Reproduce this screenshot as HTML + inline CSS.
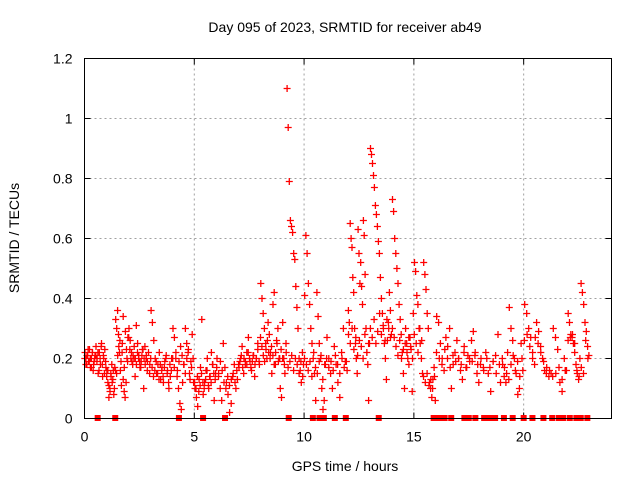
<!DOCTYPE html>
<html><head><meta charset="utf-8"><style>
body{margin:0;background:#fff;}
svg{display:block;font-family:"Liberation Sans",sans-serif;}
</style></head><body>
<svg id="chart" width="640" height="480">
<text x="345" y="32" font-size="14" text-anchor="middle">Day 095 of 2023, SRMTID for receiver ab49</text>
<text x="345" y="471" font-size="14" text-anchor="middle">GPS time / hours</text>
<text transform="translate(19,238) rotate(-90)" font-size="14" text-anchor="middle">SRMTID / TECUs</text>
<g id="grid"></g>
<g id="ticks"></g>
<g id="marks"></g>
<rect x="84.5" y="58.5" width="527" height="360" fill="none" stroke="#000"/>
</svg>
<script>
const xTicks=[0,5,10,15,20];
const yTicks=[0,0.2,0.4,0.6,0.8,1,1.2];
const yTickLabels=["0","0.2","0.4","0.6","0.8","1","1.2"];
const binStarts=[0,0.5,1.0,1.4,2,3,4,5,6,7,8,9,10,11,12,13,14,15,16,17,18,19,20,21,22];
const binEnds=[0.5,1.0,1.4,2,3,4,5,6,7,8,9,10,11,12,13,14,15,16,17,18,19,20,21,22,23];
const binValues=[
[0.22,0.2,0.18,0.21,0.19,0.23,0.17,0.2,0.22,0.16,0.19,0.21],
[0.24,0.2,0.15,0.22,0.18,0.25,0.14,0.2,0.23,0.17],
[0.16,0.12,0.07,0.1,0.15,0.18,0.13,0.08,0.17],
[0.33,0.3,0.36,0.28,0.22,0.16,0.11,0.25,0.34,0.09,0.07,0.12,0.2,0.27],
[0.3,0.26,0.22,0.18,0.2,0.14,0.31,0.25,0.21,0.17,0.19,0.23,0.1,0.24,0.2,0.16,0.22,0.18],
[0.36,0.32,0.26,0.2,0.15,0.18,0.22,0.13,0.17,0.12,0.19,0.21,0.16,0.1,0.14,0.2],
[0.3,0.27,0.2,0.14,0.1,0.05,0.03,0.12,0.18,0.3,0.25,0.22,0.15,0.19,0.28,0.12],
[0.1,0.07,0.04,0.13,0.17,0.33,0.08,0.12,0.16,0.2,0.1,0.14,0.22,0.18,0.06,0.15],
[0.2,0.15,0.1,0.06,0.25,0.17,0.12,0.08,0.02,0.05,0.14,0.18,0.1,0.13],
[0.17,0.2,0.24,0.15,0.18,0.22,0.27,0.19,0.16,0.21,0.14,0.2,0.25,0.18],
[0.45,0.4,0.35,0.3,0.25,0.2,0.32,0.28,0.22,0.15,0.38,0.42,0.18,0.26,0.3,0.2,0.1,0.07],
[0.32,0.2,0.15,0.25,1.1,0.97,0.79,0.66,0.64,0.62,0.55,0.53,0.44,0.37,0.3,0.2,0.16,0.12,0.22,0.18],
[0.41,0.61,0.55,0.45,0.38,0.3,0.25,0.2,0.15,0.06,0.42,0.34,0.25,0.2,0.1,0.03,0.06,0.18],
[0.27,0.2,0.15,0.1,0.24,0.18,0.12,0.07,0.22,0.3,0.19,0.16],
[0.36,0.32,0.65,0.6,0.57,0.47,0.42,0.3,0.25,0.2,0.15,0.63,0.55,0.45,0.52,0.44,0.38,0.66,0.61,0.48,0.3,0.22,0.18,0.06,0.25],
[0.9,0.88,0.85,0.81,0.77,0.71,0.68,0.64,0.59,0.55,0.47,0.4,0.35,0.3,0.25,0.2,0.13,0.26,0.32,0.42,0.36,0.28],
[0.73,0.69,0.6,0.55,0.5,0.45,0.38,0.33,0.28,0.22,0.15,0.1,0.3,0.25,0.2,0.18,0.27,0.23,0.09,0.35],
[0.52,0.49,0.41,0.38,0.3,0.25,0.2,0.15,0.52,0.48,0.43,0.35,0.3,0.12,0.1,0.07,0.13,0.17,0.06],
[0.34,0.32,0.25,0.2,0.16,0.27,0.24,0.3,0.1,0.18,0.22,0.26],
[0.2,0.16,0.13,0.24,0.17,0.21,0.19,0.26,0.29,0.22,0.15,0.12],
[0.2,0.17,0.22,0.15,0.09,0.19,0.21,0.28,0.12],
[0.18,0.14,0.12,0.22,0.37,0.3,0.26,0.2,0.15,0.08,0.1,0.25,0.16],
[0.38,0.35,0.3,0.27,0.22,0.18,0.32,0.29,0.24,0.2,0.16],
[0.17,0.14,0.15,0.3,0.27,0.23,0.12,0.09,0.2,0.16],
[0.35,0.32,0.28,0.27,0.25,0.22,0.18,0.15,0.13,0.2,0.45,0.42,0.38,0.32,0.29,0.24,0.21]
];
const binValuesB=[
[0.2,0.18,0.21,0.23,0.19,0.2,0.17,0.22,0.18,0.2],
[0.21,0.19,0.22,0.16,0.2,0.24,0.18,0.21,0.15,0.19],
[0.14,0.16,0.11,0.09,0.14,0.12,0.16,0.1],
[0.16,0.15,0.21,0.24,0.26,0.19,0.22,0.13,0.17,0.29,0.23,0.19],
[0.27,0.23,0.2,0.19,0.21,0.24,0.2,0.18,0.22,0.2,0.19,0.17,0.21,0.23,0.2,0.18,0.21,0.19,0.22,0.15],
[0.2,0.17,0.14,0.16,0.19,0.15,0.13,0.18,0.16,0.14,0.17,0.2,0.15,0.12,0.18,0.16],
[0.2,0.17,0.22,0.16,0.19,0.24,0.21,0.18,0.15,0.2,0.23,0.13,0.17,0.2],
[0.12,0.1,0.14,0.09,0.11,0.15,0.12,0.1,0.13,0.16,0.11,0.14,0.12,0.18,0.15,0.13],
[0.17,0.14,0.19,0.16,0.12,0.1,0.14,0.11,0.13,0.15,0.12,0.16],
[0.18,0.19,0.21,0.17,0.2,0.19,0.18,0.22,0.2,0.17,0.19,0.21,0.18,0.2,0.23,0.19],
[0.27,0.24,0.21,0.19,0.23,0.26,0.22,0.2,0.24,0.21,0.18,0.22,0.25,0.19,0.2,0.23],
[0.2,0.18,0.22,0.17,0.19,0.21,0.16,0.2,0.18,0.15,0.19,0.14],
[0.2,0.18,0.16,0.19,0.14,0.22,0.17,0.15,0.19,0.21,0.13,0.18],
[0.2,0.17,0.19,0.16,0.21,0.18,0.15,0.2,0.17,0.19],
[0.28,0.25,0.3,0.23,0.27,0.21,0.26,0.24,0.2,0.28,0.22,0.25],
[0.3,0.27,0.33,0.25,0.29,0.35,0.28,0.31,0.26,0.33,0.3,0.27],
[0.3,0.27,0.24,0.21,0.26,0.2,0.23,0.25,0.22,0.27,0.24,0.2],
[0.28,0.25,0.22,0.3,0.26,0.14,0.12,0.15,0.11,0.13,0.1,0.14],
[0.22,0.2,0.18,0.23,0.2,0.17,0.21,0.19],
[0.2,0.18,0.22,0.17,0.2,0.19,0.21,0.18],
[0.18,0.16,0.2,0.17,0.19,0.15,0.18],
[0.2,0.17,0.15,0.13,0.18,0.21,0.16,0.19,0.14,0.2],
[0.26,0.28,0.24,0.2,0.27,0.25,0.22,0.19],
[0.15,0.16,0.14,0.15,0.17,0.13,0.16],
[0.26,0.27,0.28,0.25,0.16,0.14,0.17,0.15,0.26,0.2]
];
const zeroTimes=[0.6,1.4,4.3,5.4,6.4,9.3,10.4,10.7,10.9,11.4,11.9,13.4,15.9,16.0,16.1,16.2,16.3,16.4,16.7,17.3,17.5,17.8,18.2,18.3,18.4,18.5,18.6,18.7,19.1,19.5,20.0,20.4,20.9,21.3,21.6,21.8,22.1,22.4,22.6,22.9];
const X0=84.5,X1=611.5,Y0=418.5,Y1=58.5;
function xs(t){return X0+(t/24)*(X1-X0);}
function ys(v){return Y0-(v/1.2)*(Y0-Y1);}
const NS="http://www.w3.org/2000/svg";
const grid=document.getElementById('grid'),ticks=document.getElementById('ticks'),marks=document.getElementById('marks');
function mk(tag,attrs,parent){const e=document.createElementNS(NS,tag);for(const k in attrs)e.setAttribute(k,attrs[k]);parent.appendChild(e);return e;}
xTicks.forEach(t=>{
  const x=xs(t);
  if(t>0){const g=mk('line',{x1:x,x2:x,y1:Y1,y2:Y0,stroke:'#a0a0a0','stroke-dasharray':'2,3'},grid);
  
  }
  const tk=mk('path',{d:`M${x},${Y0}v-6M${x},${Y1}v6`,stroke:'#000'},ticks);
  
  
  const lb=mk('text',{x:x,y:Y0+23,'font-size':14,'text-anchor':'middle'},ticks);
  lb.textContent=String(t);
  
  
});
yTicks.forEach((v,i)=>{
  const y=ys(v);
  if(i>0&&i<yTicks.length-1){const g=mk('line',{x1:X0,x2:X1,y1:y,y2:y,stroke:'#a0a0a0','stroke-dasharray':'2,3'},grid);
  
  }
  const tk=mk('path',{d:`M${X0},${y}h6M${X1},${y}h-6`,stroke:'#000'},ticks);
  
  
  const lb=mk('text',{x:X0-12,y:y+5,'font-size':14,'text-anchor':'end'},ticks);
  lb.textContent=yTickLabels[i];
  
  
});
let d='';
function addSeries(arr,offset){
  arr.forEach((vals,b)=>{
    const s=binStarts[b],e=binEnds[b];
    vals.forEach((v,j)=>{
      const t=s+(e-s)*(j+offset)/vals.length;
      const x=xs(t),y=ys(v);
      d+=`M${(x-3.5).toFixed(1)},${y.toFixed(1)}h7M${x.toFixed(1)},${(y-3.5).toFixed(1)}v7`;
    });
  });
}
addSeries(binValues,0.5);
addSeries(binValuesB,0.25);
const pts=mk('path',{d:d,stroke:'#ff0000','stroke-width':1.3,fill:'none'},marks);


zeroTimes.forEach(t=>{
  const r=mk('rect',{x:xs(t)-3,y:ys(0)-3.5,width:6,height:6,fill:'#ff0000'},marks);
  
  
});
</script>
</body></html>
